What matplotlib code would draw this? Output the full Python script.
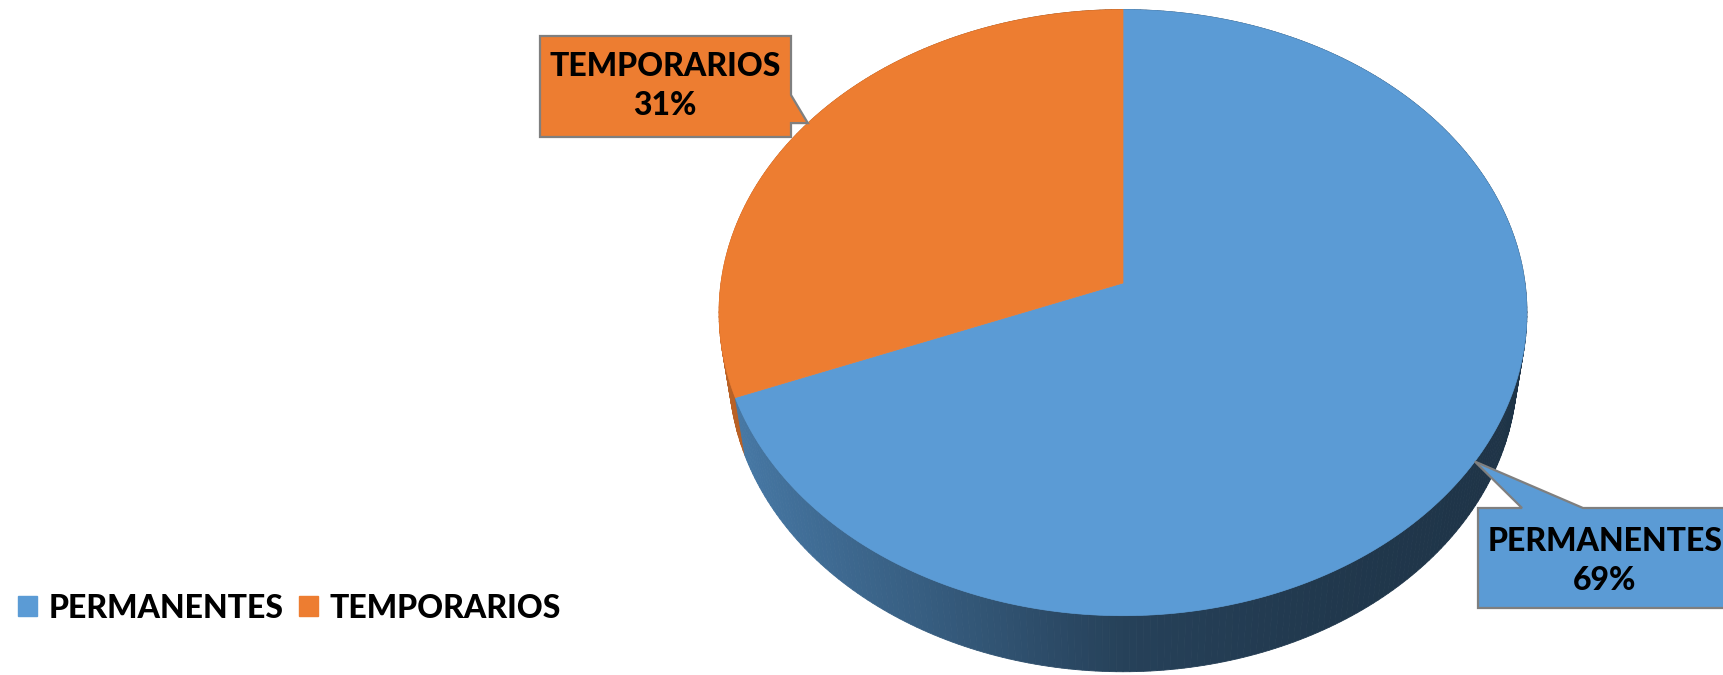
import numpy as np
import matplotlib
matplotlib.use("Agg")
import matplotlib.pyplot as plt
from matplotlib.patches import Polygon, Patch
from matplotlib.colors import to_rgb
from matplotlib import font_manager as fm

categories = ["PERMANENTES", "TEMPORARIOS"]
values = [69, 31]
colors = ["#5B9BD5", "#ED7D31"]

FONT = ["Lato", "DejaVu Sans"]
FS = 23
WEIGHT = "black"

W, H = 1723, 675
fig = plt.figure(figsize=(W / 100, H / 100), dpi=100)
ax = fig.add_axes([0, 0, 1, 1])
ax.set_xlim(0, W)
ax.set_ylim(H, 0)
ax.axis("off")

# 3D perspective pie geometry
CX, CY, SCALE = 1123, 283, 402
PHI = np.radians(48.3)
DIST = 6.8
THICK = 0.225


def project(x, y, z):
    v = y * np.cos(PHI) - z * np.sin(PHI)
    w = y * np.sin(PHI) + z * np.cos(PHI)
    s = DIST / (DIST - w)
    return CX + x * s * SCALE, CY - v * s * SCALE, w


def rim(theta, y):
    return project(np.sin(theta), y, -np.cos(theta))


total = sum(values)
fracs = [v / total for v in values]
bounds = np.concatenate([[0], np.cumsum(fracs)]) * 2 * np.pi

# side wall quads, drawn back-to-front
quads = []
for i, col in enumerate(colors):
    t0, t1 = bounds[i], bounds[i + 1]
    n = max(int((t1 - t0) / (2 * np.pi) * 400), 4)
    ts = np.linspace(t0, t1, n + 1)
    base = np.array(to_rgb(col))
    for a, b in zip(ts[:-1], ts[1:]):
        xa, ya, wa = rim(a, 0)
        xb, yb, wb = rim(b, 0)
        xa2, ya2, _ = rim(a, -THICK)
        xb2, yb2, _ = rim(b, -THICK)
        m = 0.5 * (a + b)
        f = np.interp(np.sin(m), [-1, -0.5, 0, 0.5, 1], [0.80, 0.62, 0.42, 0.36, 0.33])
        quads.append(((wa + wb) / 2, [(xa, ya), (xb, yb), (xb2, yb2), (xa2, ya2)], base * f))
quads.sort(key=lambda q: q[0])
for _, pts, c in quads:
    ax.add_patch(Polygon(pts, closed=True, facecolor=c, edgecolor=c, linewidth=0.6, zorder=1))

# top face wedges
cx0, cy0, _ = project(0, 0, 0)
for i, col in enumerate(colors):
    ts = np.linspace(bounds[i], bounds[i + 1], 300)
    xs, ys, _ = rim(ts, 0)
    pts = [(cx0, cy0)] + list(zip(xs, ys))
    ax.add_patch(Polygon(pts, closed=True, facecolor=col, edgecolor=col, linewidth=0.5, zorder=2))

# callouts
EDGE = "#7F7F7F"
mids = [(bounds[i] + bounds[i + 1]) / 2 for i in range(len(values))]
tips = [rim(m, 0)[:2] for m in mids]
labels = [f"{c}\n{round(f * 100)}%" for c, f in zip(categories, fracs)]

# PERMANENTES (box below right, tail from top edge)
tx, ty = tips[0]
perm_box = [(1478, 508), (1522, 508), (tx, ty), (1583, 508), (1745, 508), (1745, 608), (1478, 608)]
ax.add_patch(Polygon(perm_box, closed=True, facecolor=colors[0], edgecolor=EDGE, linewidth=1.6, zorder=3))
ax.text(1605, 561, labels[0], ha="center", va="center", fontsize=FS, fontweight=WEIGHT,
        family=FONT, linespacing=1.45, zorder=4, color="#000000")

# TEMPORARIOS (box upper left, tail from right edge)
tx, ty = tips[1]
temp_box = [(540, 36), (791, 36), (791, 95), (tx, ty), (791, ty), (791, 137), (540, 137)]
ax.add_patch(Polygon(temp_box, closed=True, facecolor=colors[1], edgecolor=EDGE, linewidth=1.6, zorder=3))
ax.text(665, 86, labels[1], ha="center", va="center", fontsize=FS, fontweight=WEIGHT,
        family=FONT, linespacing=1.45, zorder=4, color="#000000")

# legend
handles = [Patch(facecolor=c, edgecolor=c) for c in colors]
leg = ax.legend(handles, categories, loc="center left", bbox_to_anchor=(18 / W, 1 - 608 / H),
                ncol=2, frameon=False, borderpad=0, borderaxespad=0,
                handlelength=0.6, handleheight=0.6, handletextpad=0.35, columnspacing=0.5,
                prop={"family": FONT, "weight": WEIGHT, "size": FS})

fig.savefig("out.png", dpi=100)
